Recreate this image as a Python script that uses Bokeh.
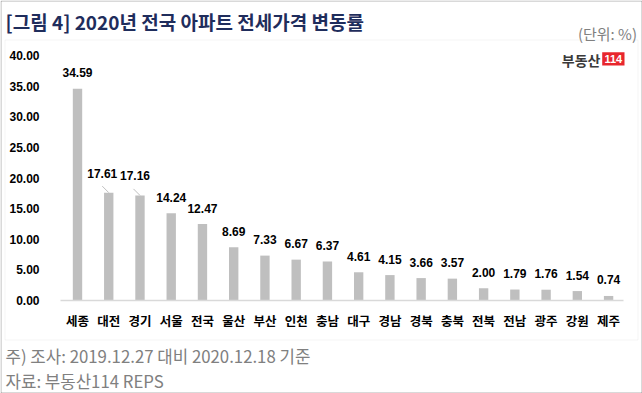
from bokeh.plotting import figure
from bokeh.models import Range1d, FixedTicker, NumeralTickFormatter, Label, BoxAnnotation, ColumnDataSource
from bokeh.embed import file_html
from bokeh.resources import INLINE
from bokeh.core.properties import value

# ---- data ----
regions = ["세종", "대전", "경기", "서울", "전국", "울산", "부산", "인천", "충남",
           "대구", "경남", "경북", "충북", "전북", "전남", "광주", "강원", "제주"]
changes = [34.59, 17.61, 17.16, 14.24, 12.47, 8.69, 7.33, 6.67, 6.37,
           4.61, 4.15, 3.66, 3.57, 2.00, 1.79, 1.76, 1.54, 0.74]
y_ticks = [0, 5, 10, 15, 20, 25, 30, 35, 40]

title_text = "[그림 4] 2020년 전국 아파트 전세가격 변동률"
unit_text = "(단위: %)"
note_text = "주) 조사: 2019.12.27 대비 2020.12.18 기준"
source_text = "자료: 부동산114 REPS"

# ---- layout (pixels); the plot frame covers the whole canvas ----
W, H = 642, 393
BAR0_PX = 77.0        # pixel centre of the first bar
STEP_PX = 31.24       # pixels between bars
ZERO_PX = 300.0       # pixel row of value 0
UNIT_PX = 6.125       # pixels per 1 %
AXIS_LEFT_PX, AXIS_RIGHT_PX = 60.0, 623.0

X0 = -BAR0_PX / STEP_PX
X1 = X0 + W / STEP_PX
Y0 = -(H - ZERO_PX) / UNIT_PX
Y1 = ZERO_PX / UNIT_PX

def px_to_x(px):
    return X0 + px / STEP_PX

# labels pulled away from their bar with a leader line (pixel nudges)
nudge = {"대전": (-6.5, -19.5), "경기": (-5.0, -19.5)}

xs = list(range(len(regions)))
lab_xo, lab_yo = [], []
seg_x0, seg_y0, seg_x1, seg_y1 = [], [], [], []
for i, (r, v) in enumerate(zip(regions, changes)):
    if r in nudge:
        dx, dy = nudge[r]
        lab_xo.append(dx)
        lab_yo.append(dy)
        seg_x0.append(i)
        seg_y0.append(v)
        seg_x1.append(i - 6.5 / STEP_PX)
        seg_y1.append(v + 6.5 / UNIT_PX)
    else:
        lab_xo.append(0)
        lab_yo.append(-16)

src = ColumnDataSource(dict(x=xs, top=changes, txt=["%.2f" % v for v in changes],
                            xo=lab_xo, yo=lab_yo))

p = figure(width=W, height=H, output_backend="svg", toolbar_location=None,
           x_range=Range1d(X0, X1), y_range=Range1d(Y0, Y1),
           min_border=0, min_border_left=0, min_border_right=0,
           min_border_top=0, min_border_bottom=0)
p.outline_line_color = None
p.background_fill_color = "white"
p.border_fill_color = "white"
p.xgrid.visible = False
p.ygrid.visible = False

p.vbar(x="x", top="top", width=0.30, source=src, fill_color="#bfbfbf", line_color=None)
p.segment(x0=seg_x0, y0=seg_y0, x1=seg_x1, y1=seg_y1, line_color="#bfbfbf", line_width=1)
p.text(x="x", y="top", text="txt", x_offset="xo", y_offset="yo", source=src,
       text_align="center", text_baseline="middle", text_font=value("Liberation Sans"),
       text_font_style="bold", text_font_size="12px", text_color="black")

# y axis (crossing at the left end of the baseline)
p.yaxis.fixed_location = px_to_x(AXIS_LEFT_PX)
p.yaxis.bounds = (0, 40)
p.yaxis.ticker = FixedTicker(ticks=y_ticks)
p.yaxis.formatter = NumeralTickFormatter(format="0.00")
p.yaxis.axis_line_color = None
p.yaxis.major_tick_line_color = None
p.yaxis.minor_tick_line_color = None
p.yaxis.major_label_standoff = 15
p.yaxis.major_label_text_font = "Liberation Sans"
p.yaxis.major_label_text_font_style = "bold"
p.yaxis.major_label_text_font_size = "12px"
p.yaxis.major_label_text_color = "black"

# x axis (baseline at 0)
p.xaxis.fixed_location = 0
p.xaxis.bounds = (px_to_x(AXIS_LEFT_PX), px_to_x(AXIS_RIGHT_PX))
p.xaxis.ticker = FixedTicker(ticks=xs)
p.xaxis.major_label_overrides = {i: r for i, r in enumerate(regions)}
p.xaxis.axis_line_color = "#d9d9d9"
p.xaxis.axis_line_width = 1.5
p.xaxis.major_tick_line_color = None
p.xaxis.minor_tick_line_color = None
p.xaxis.major_label_standoff = 4
p.xaxis.major_label_text_font = "Noto Sans CJK KR"
p.xaxis.major_label_text_font_style = "bold"
p.xaxis.major_label_text_font_size = "12.5px"
p.xaxis.major_label_text_color = "black"

def sx(x):
    return x

def sy(y):
    return H - y

def box(l, r, t, b, **kw):
    return BoxAnnotation(left=sx(l), right=sx(r), top=sy(t), bottom=sy(b),
                         left_units="screen", right_units="screen",
                         top_units="screen", bottom_units="screen", **kw)

def label(x, y, text, **kw):
    return Label(x=sx(x), y=sy(y), x_units="screen", y_units="screen", text=text,
                 text_baseline="middle", **kw)

# borders
p.add_layout(box(0.5, W - 0.5, 0.5, H - 0.5, fill_color=None, fill_alpha=0,
                 line_color="black", line_width=1))
p.add_layout(box(4.5, 637.5, 39.5, 339.5, fill_color=None, fill_alpha=0,
                 line_color="#d9d9d9", line_width=1))

# titles and notes
p.add_layout(label(5, 20.7, title_text, text_font="Noto Sans CJK KR", text_font_style="bold",
                   text_font_size="19px", text_color="#1f2d5c", text_align="left"))
p.add_layout(label(636.5, 33.3, unit_text, text_font="Noto Sans CJK KR", text_font_size="15px",
                   text_color="#808080", text_align="right"))
p.add_layout(label(5, 355, note_text, text_font="Noto Sans CJK KR", text_font_size="16.8px",
                   text_color="#808080", text_align="left"))
p.add_layout(label(5, 380, source_text, text_font="Noto Sans CJK KR", text_font_size="16.8px",
                   text_color="#808080", text_align="left"))

# logo
p.add_layout(box(601.7, 624, 51.7, 65, fill_color="#e8262d", fill_alpha=1.0, line_color=None))
p.add_layout(label(612.8, 58.4, "114", text_font="Liberation Sans", text_font_style="bold",
                   text_font_size="11px", text_color="white", text_align="center"))
p.add_layout(label(600, 59, "부동산", text_font="Noto Sans CJK KR", text_font_style="bold",
                   text_font_size="14px", text_color="#3a3a3a", text_align="right"))

open("out.html", "w").write(file_html(p, INLINE))
